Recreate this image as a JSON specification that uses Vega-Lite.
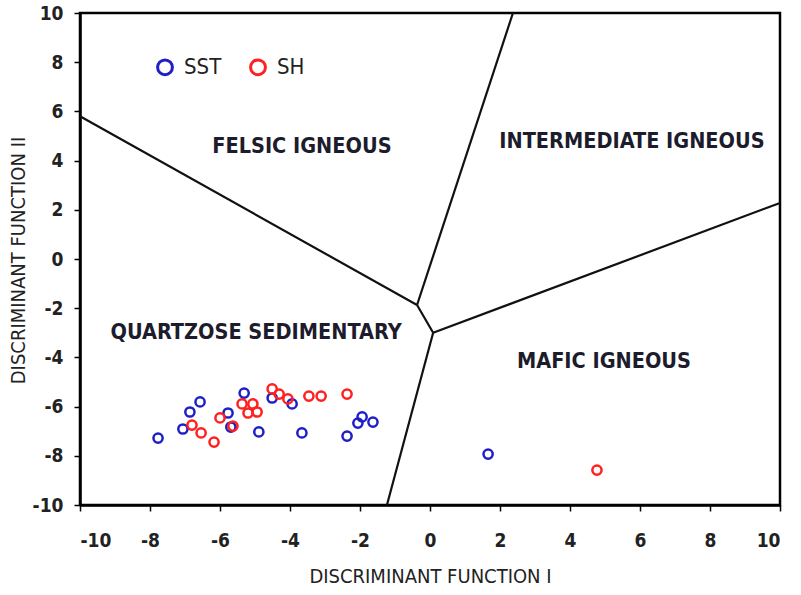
{
  "$schema": "https://vega.github.io/schema/vega-lite/v6.json",
  "width": 700,
  "height": 492,
  "autosize": "none",
  "padding": {"left": 80, "top": 13, "right": 21, "bottom": 90},
  "background": "white",
  "config": {
    "view": {"stroke": "black", "strokeWidth": 2.5},
    "font": "DejaVu Sans Condensed, sans-serif",
    "axis": {
      "grid": false,
      "domainColor": "black",
      "domainWidth": 2.5,
      "tickColor": "black",
      "tickWidth": 1.5,
      "tickSize": 6,
      "labelFont": "DejaVu Sans Condensed, sans-serif",
      "labelFontSize": 19,
      "labelFontWeight": "bold",
      "labelColor": "#222222",
      "labelExpr": "datum.value < 0 ? '-' + abs(datum.value) : '' + datum.value",
      "titleFont": "DejaVu Sans Condensed, sans-serif",
      "titleFontSize": 20,
      "titleFontWeight": "normal",
      "titleColor": "#222222"
    }
  },
  "datasets": {
    "samples": [
      {"group": "SST", "df1": -7.77, "df2": -7.28},
      {"group": "SST", "df1": -7.06, "df2": -6.91},
      {"group": "SST", "df1": -6.86, "df2": -6.22},
      {"group": "SST", "df1": -6.57, "df2": -5.81},
      {"group": "SST", "df1": -5.77, "df2": -6.26},
      {"group": "SST", "df1": -5.69, "df2": -6.83},
      {"group": "SST", "df1": -5.31, "df2": -5.45},
      {"group": "SST", "df1": -4.89, "df2": -7.03},
      {"group": "SST", "df1": -4.51, "df2": -5.65},
      {"group": "SST", "df1": -3.94, "df2": -5.89},
      {"group": "SST", "df1": -3.66, "df2": -7.07},
      {"group": "SST", "df1": -2.37, "df2": -7.2},
      {"group": "SST", "df1": -2.06, "df2": -6.67},
      {"group": "SST", "df1": -1.94, "df2": -6.42},
      {"group": "SST", "df1": -1.63, "df2": -6.63},
      {"group": "SST", "df1": 1.66, "df2": -7.93},
      {"group": "SH", "df1": -6.8, "df2": -6.75},
      {"group": "SH", "df1": -6.54, "df2": -7.07},
      {"group": "SH", "df1": -6.17, "df2": -7.44},
      {"group": "SH", "df1": -6.0, "df2": -6.46},
      {"group": "SH", "df1": -5.63, "df2": -6.79},
      {"group": "SH", "df1": -5.37, "df2": -5.89},
      {"group": "SH", "df1": -5.2, "df2": -6.26},
      {"group": "SH", "df1": -5.06, "df2": -5.89},
      {"group": "SH", "df1": -4.94, "df2": -6.22},
      {"group": "SH", "df1": -4.51, "df2": -5.28},
      {"group": "SH", "df1": -4.31, "df2": -5.49},
      {"group": "SH", "df1": -4.06, "df2": -5.69},
      {"group": "SH", "df1": -3.46, "df2": -5.57},
      {"group": "SH", "df1": -3.11, "df2": -5.57},
      {"group": "SH", "df1": -2.37, "df2": -5.49},
      {"group": "SH", "df1": 4.77, "df2": -8.58}
    ],
    "boundaries": [
      {"seg": "a", "i": 0, "df1": -10, "df2": 5.8},
      {"seg": "a", "i": 1, "df1": -0.37, "df2": -1.87},
      {"seg": "b", "i": 0, "df1": -0.37, "df2": -1.87},
      {"seg": "b", "i": 1, "df1": 2.37, "df2": 10},
      {"seg": "c", "i": 0, "df1": -0.37, "df2": -1.87},
      {"seg": "c", "i": 1, "df1": 0.09, "df2": -3.0},
      {"seg": "d", "i": 0, "df1": 0.09, "df2": -3.0},
      {"seg": "d", "i": 1, "df1": 10, "df2": 2.28},
      {"seg": "e", "i": 0, "df1": 0.09, "df2": -3.0},
      {"seg": "e", "i": 1, "df1": -1.23, "df2": -10}
    ],
    "fields": [
      {"name": "FELSIC IGNEOUS", "df1": -3.66, "df2": 4.55},
      {"name": "INTERMEDIATE IGNEOUS", "df1": 5.77, "df2": 4.76},
      {"name": "QUARTZOSE  SEDIMENTARY", "df1": -4.97, "df2": -3.0},
      {"name": "MAFIC IGNEOUS", "df1": 4.97, "df2": -4.19}
    ]
  },
  "encoding": {
    "x": {
      "field": "df1",
      "type": "quantitative",
      "scale": {"domain": [-10, 10], "nice": false, "zero": false},
      "axis": {"values": [-10, -8, -6, -4, -2, 0, 2, 4, 6, 8, 10], "title": "DISCRIMINANT  FUNCTION I", "labelPadding": 20, "titlePadding": 16}
    },
    "y": {
      "field": "df2",
      "type": "quantitative",
      "scale": {"domain": [-10, 10], "nice": false, "zero": false},
      "axis": {"values": [-10, -8, -6, -4, -2, 0, 2, 4, 6, 8, 10], "title": "DISCRIMINANT  FUNCTION II", "labelPadding": 11, "titlePadding": 4, "titleY": 247}
    }
  },
  "layer": [
    {
      "data": {"name": "boundaries"},
      "mark": {"type": "line", "color": "#111111", "strokeWidth": 2.2},
      "encoding": {
        "detail": {"field": "seg", "type": "nominal"},
        "order": {"field": "i", "type": "quantitative"}
      }
    },
    {
      "data": {"name": "fields"},
      "mark": {"type": "text", "fontSize": 21.5, "fontWeight": "bold", "color": "#1c1c2c", "font": "DejaVu Sans Condensed, sans-serif"},
      "encoding": {"text": {"field": "name", "type": "nominal"}}
    },
    {
      "data": {"name": "samples"},
      "mark": {"type": "point", "shape": "circle", "filled": false, "size": 85, "strokeWidth": 2.5, "opacity": 1},
      "encoding": {
        "color": {
          "field": "group",
          "type": "nominal",
          "scale": {"domain": ["SST", "SH"], "range": ["#1f1fc8", "#ff2020"]},
          "legend": {
            "title": null,
            "orient": "none",
            "direction": "horizontal",
            "legendX": 74,
            "legendY": 43,
            "symbolType": "circle",
            "symbolFillColor": "transparent",
            "symbolSize": 220,
            "symbolStrokeWidth": 3,
            "labelFontSize": 22,
            "labelFont": "DejaVu Sans Condensed, sans-serif",
            "labelColor": "#222222",
            "labelOffset": 8,
            "columnPadding": 22
          }
        }
      }
    }
  ]
}
